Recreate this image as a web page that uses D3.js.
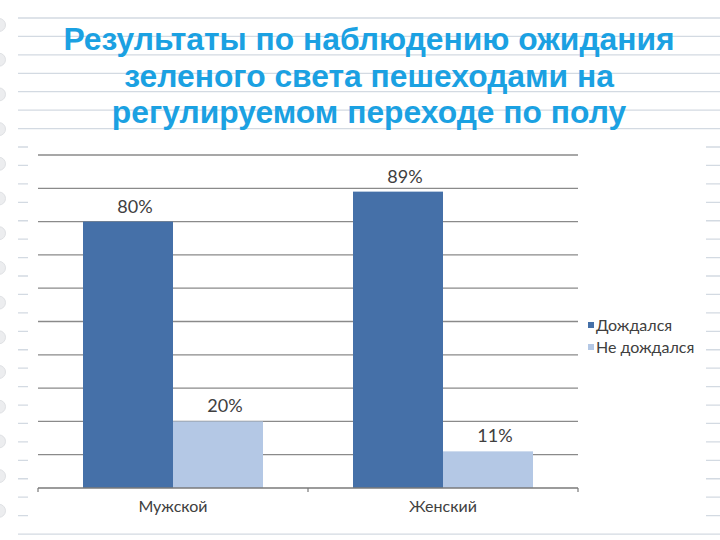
<!DOCTYPE html>
<html><head><meta charset="utf-8">
<script src="https://cdn.jsdelivr.net/npm/d3@7"></script>
<style>html,body{margin:0;padding:0;background:#fff;}svg{display:block;}</style>
</head><body>
<svg id="c" width="720" height="540"></svg>
<script>
const titleLines = ["Результаты по наблюдению ожидания", "зеленого света пешеходами на", "регулируемом переходе по полу"];
const categories = ["Мужской", "Женский"];
const seriesNames = ["Дождался", "Не дождался"];
const waited = [80, 89];
const notWaited = [20, 11];
const yTicks = [0, 10, 20, 30, 40, 50, 60, 70, 80, 90, 100];
const colors = ["#4570A8", "#B4C8E5"];

const svg = d3.select("#c");

// notebook paper background
const paperLines = d3.range(18, 536, 18.43);
svg.selectAll("line.paper").data(paperLines).join("line")
  .attr("x1", 18).attr("x2", 720).attr("y1", d => d).attr("y2", d => d)
  .attr("stroke", "#D3DAE2").attr("stroke-width", 1.3);
const rings = d3.range(25, 530, 34.7);
svg.selectAll("circle.ring").data(rings).join("circle")
  .attr("cx", -1).attr("cy", d => d).attr("r", 6.5)
  .attr("fill", "#ECEDEF").attr("stroke", "#DFE1E4");

// chart image area
svg.append("rect").attr("x", 28).attr("y", 138).attr("width", 678).attr("height", 387).attr("fill", "#fff");
// title
const title = svg.append("text").attr("text-anchor", "middle")
  .attr("font-family", "'Liberation Sans', Arial, sans-serif").attr("font-weight", "bold")
  .attr("font-size", 31.8).attr("fill", "#1BA1E2");
titleLines.forEach((t, i) => {
  title.append("tspan").attr("x", 369).attr("y", 50 + i * 36.5).text(t);
});

const plotL = 38, plotR = 578, plotT = 155, plotB = 488;
const x0 = d3.scaleBand().domain(categories).range([plotL, plotR]).padding(0);
const x1 = d3.scaleBand().domain(seriesNames).range([0, x0.bandwidth()]).paddingInner(0).paddingOuter(0.5);
const y = d3.scaleLinear().domain([0, 100]).range([plotB, plotT]);

// gridlines
svg.selectAll("line.grid").data(yTicks.filter(d => d > 0)).join("line")
  .attr("x1", plotL).attr("x2", plotR).attr("y1", d => y(d)).attr("y2", d => y(d))
  .attr("stroke", "#8A8A8A").attr("stroke-width", 1.3);

const data = categories.map((c, i) => ({cat: c, vals: [waited[i], notWaited[i]]}));
const g = svg.selectAll("g.cat").data(data).join("g").attr("transform", d => `translate(${x0(d.cat)},0)`);
g.selectAll("rect").data(d => d.vals.map((v, j) => ({s: seriesNames[j], v, j}))).join("rect")
  .attr("x", d => x1(d.s)).attr("width", x1.bandwidth())
  .attr("y", d => y(d.v)).attr("height", d => plotB - y(d.v))
  .attr("fill", d => colors[d.j]);
g.selectAll("text").data(d => d.vals.map((v, j) => ({s: seriesNames[j], v, j}))).join("text")
  .attr("x", d => x1(d.s) + x1.bandwidth() / 2 + 7).attr("y", d => y(d.v) - 9)
  .attr("text-anchor", "middle").attr("font-family", "Lato, 'Open Sans', sans-serif")
  .attr("font-size", 18).attr("fill", "#404040").text(d => d.v + "%");

// baseline axis
svg.append("line").attr("x1", plotL).attr("x2", plotR).attr("y1", plotB).attr("y2", plotB)
  .attr("stroke", "#7A7A7A").attr("stroke-width", 1.5);
const tickXs = [plotL].concat(categories.map(c => x0(c) + x0.bandwidth()));
svg.selectAll("line.tk").data(tickXs).join("line")
  .attr("x1", d => d).attr("x2", d => d).attr("y1", plotB).attr("y2", plotB + 4)
  .attr("stroke", "#7A7A7A").attr("stroke-width", 1.2);
svg.selectAll("text.cl").data(categories).join("text")
  .attr("x", d => x0(d) + x0.bandwidth() / 2).attr("y", 512)
  .attr("text-anchor", "middle").attr("font-family", "Lato, 'Open Sans', sans-serif")
  .attr("font-size", 16).attr("fill", "#404040").text(d => d);

// legend
const lg = svg.selectAll("g.lg").data(seriesNames).join("g")
  .attr("transform", (d, i) => `translate(588,${325 + i * 22})`);
lg.append("rect").attr("x", 0).attr("y", -3).attr("width", 6).attr("height", 6).attr("fill", (d, i) => colors[i]);
lg.append("text").attr("x", 8).attr("y", 5.5).attr("font-family", "Lato, 'Open Sans', sans-serif")
  .attr("font-size", 16).attr("fill", "#404040").text(d => d);
</script>
</body></html>
